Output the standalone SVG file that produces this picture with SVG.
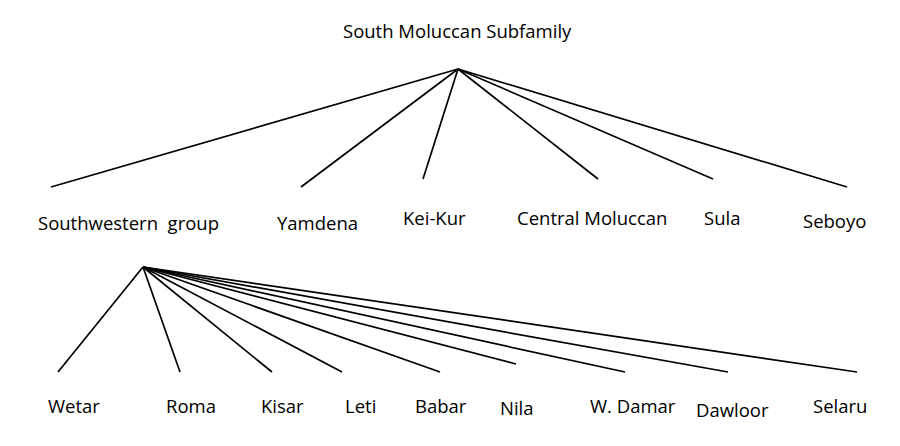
<svg xmlns="http://www.w3.org/2000/svg" width="900" height="446" viewBox="0 0 900 446">
<style>
text{font-family:"Open Sans","Noto Sans",sans-serif;font-size:18.5px;fill:#000}
.c line{stroke:#000;stroke-width:1.7;stroke-linecap:butt}
</style>
<rect width="900" height="446" fill="#fff"/>
<g class="c" id="connectors">
<line x1="458" y1="69" x2="51" y2="187"/>
<line x1="458" y1="69" x2="301" y2="187"/>
<line x1="458" y1="69" x2="423" y2="179"/>
<line x1="458" y1="69" x2="598" y2="179"/>
<line x1="458" y1="69" x2="713" y2="179"/>
<line x1="458" y1="69" x2="847" y2="187"/>
<line x1="143" y1="267" x2="58" y2="372"/>
<line x1="143" y1="267" x2="180" y2="372"/>
<line x1="143" y1="267" x2="272" y2="372"/>
<line x1="143" y1="267" x2="342" y2="372"/>
<line x1="143" y1="267" x2="440" y2="372"/>
<line x1="143" y1="267" x2="516" y2="364"/>
<line x1="143" y1="267" x2="625" y2="372"/>
<line x1="143" y1="267" x2="728" y2="372"/>
<line x1="143" y1="267" x2="857" y2="372"/>
</g>
<g id="root"><text x="343" y="38">South Moluccan Subfamily</text></g>
<g id="southwestern"><text x="38" y="230" xml:space="preserve">Southwestern  group</text></g>
<g id="yamdena"><text x="277" y="230">Yamdena</text></g>
<g id="keikur"><text x="403" y="225">Kei-Kur</text></g>
<g id="central"><text x="517" y="225">Central Moluccan</text></g>
<g id="sula"><text x="704" y="225">Sula</text></g>
<g id="seboyo"><text x="803" y="228">Seboyo</text></g>
<g id="wetar"><text x="48" y="413">Wetar</text></g>
<g id="roma"><text x="166" y="413">Roma</text></g>
<g id="kisar"><text x="261" y="413">Kisar</text></g>
<g id="leti"><text x="345" y="413">Leti</text></g>
<g id="babar"><text x="415" y="413">Babar</text></g>
<g id="nila"><text x="500" y="415">Nila</text></g>
<g id="wdamar"><text x="590" y="413">W. Damar</text></g>
<g id="dawloor"><text x="696" y="417">Dawloor</text></g>
<g id="selaru"><text x="813" y="413">Selaru</text></g>
</svg>
